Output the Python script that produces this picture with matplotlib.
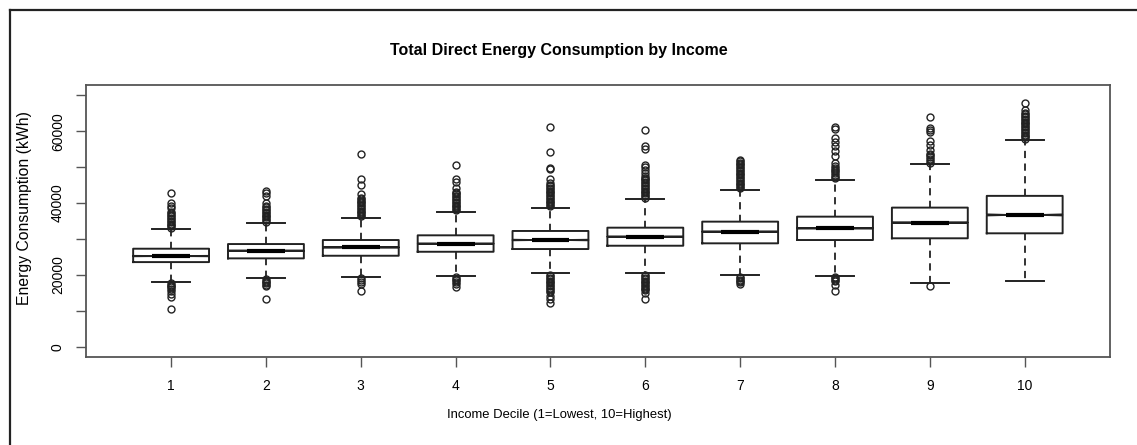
import matplotlib
matplotlib.use("Agg")
import matplotlib.pyplot as plt
from matplotlib.lines import Line2D

plt.rcParams['font.family'] = ['Liberation Sans', 'DejaVu Sans']

###Box statistics per income decile (kWh)
deciles = [1, 2, 3, 4, 5, 6, 7, 8, 9, 10]
q1s = [23560, 24600, 25330, 26440, 27200, 28120, 28790, 29710, 30190, 31580]
medians = [25240, 26720, 27670, 28680, 29710, 30630, 32030, 32980, 34550, 36700]
q3s = [27290, 28590, 29710, 31020, 32230, 33150, 34830, 36220, 38740, 42010]
whis_lo = [18060, 19170, 19370, 19650, 20400, 20400, 19930, 19650, 17780, 18340]
whis_hi = [32700, 34380, 35950, 37620, 38740, 41170, 43770, 46480, 50870, 57470]
notch_half = [50, 55, 60, 65, 70, 70, 80, 90, 110, 140]

###Outliers above and below the whiskers
out_hi = [
    [33100, 33500, 33900, 34300, 34700, 35100, 35500, 35900, 36300, 36700, 37100, 37600, 38600, 39300, 39900, 42700],
    [34800, 35200, 35600, 36000, 36400, 36800, 37200, 37600, 38000, 38400, 38800, 39300, 39900, 42000, 42700, 43400],
    [36300, 36700, 37100, 37500, 37900, 38300, 38700, 39100, 39500, 39900, 40300, 40700, 41100, 41500, 42500, 45100, 46700, 53800],
    [38000, 38400, 38800, 39200, 39600, 40000, 40400, 40800, 41200, 41600, 42000, 42400, 42800, 43200, 44200, 46000, 46700, 50700],
    [39100, 39500, 39900, 40300, 40700, 41100, 41500, 41900, 42300, 42700, 43100, 43500, 43900, 44300, 44700, 45100, 45500, 46700, 49500, 49900, 54300, 61100],
    [41500, 41900, 42300, 42700, 43100, 43500, 43900, 44300, 44700, 45100, 45500, 45900, 46300, 46700, 47100, 47500, 48300, 49200, 50000, 50700, 55100, 56000, 60300],
    [44100, 44500, 44900, 45300, 45700, 46100, 46500, 46900, 47300, 47700, 48100, 48500, 48900, 49300, 49700, 50100, 50500, 50900, 51300, 51700, 52000],
    [46900, 47400, 47800, 48350, 48800, 49280, 49700, 50200, 51150, 52990, 54390, 55790, 57020, 58140, 60650, 61300],
    [51300, 51800, 52300, 52800, 53300, 53750, 54670, 56260, 57190, 59900, 60260, 60930, 64000],
    [57900, 58300, 58700, 59100, 59500, 59900, 60300, 60700, 61100, 61500, 61900, 62300, 62700, 63100, 63500, 63900, 64300, 64700, 65200, 66050, 67900],
]
out_lo = [
    [17700, 17300, 16900, 16500, 16100, 15600, 14800, 13900, 10600],
    [18800, 18400, 18000, 17600, 17200, 16800, 13300],
    [19000, 18700, 18000, 17400, 15400],
    [19300, 18900, 18500, 18100, 17400, 16500],
    [20000, 19600, 19200, 18800, 18400, 18000, 17600, 17200, 16800, 16400, 16000, 15600, 15200, 14100, 13200, 12300],
    [20000, 19600, 19200, 18800, 18400, 18000, 17600, 17200, 16800, 16400, 16000, 15700, 15000, 13300],
    [19500, 19100, 18700, 18300, 17900, 17500],
    [19300, 19000, 18600, 18200, 17100, 15500],
    [16900],
    [],
]

stats = []
for i in range(len(deciles)):
    stats.append(dict(med=medians[i], q1=q1s[i], q3=q3s[i],
                      whislo=whis_lo[i], whishi=whis_hi[i],
                      cilo=medians[i] - notch_half[i], cihi=medians[i] + notch_half[i],
                      fliers=out_hi[i] + out_lo[i]))

fig = plt.figure(figsize=(11.37, 4.45), dpi=100)
ax = fig.add_axes([0.0754, 0.1984, 0.9009, 0.6106])

edge = '#222222'
ax.bxp(stats, positions=deciles, widths=0.8, shownotches=True,
       boxprops=dict(color=edge, linewidth=1.4),
       medianprops=dict(color='black', linewidth=3, solid_capstyle='butt'),
       whiskerprops=dict(color=edge, linewidth=1.3, linestyle=(0, (4, 3))),
       capprops=dict(color=edge, linewidth=1.4),
       flierprops=dict(marker='o', markerfacecolor='none', markeredgecolor='#222222',
                       markersize=5, markeredgewidth=1.0))

ax.set_xlim(0.1, 10.9)
ax.set_ylim(-2800, 72900)

ax.set_xticks(deciles)
ax.set_xticklabels([str(d) for d in deciles], fontsize=10)
yticks = [0, 10000, 20000, 30000, 40000, 50000, 60000, 70000]
ax.set_yticks(yticks)
ax.set_yticklabels([str(v) if v % 20000 == 0 else '' for v in yticks],
                   fontsize=10, rotation=90, va='center')
ax.tick_params(axis='both', length=7, width=1, color='#555555')
ax.tick_params(axis='x', pad=9)
ax.tick_params(axis='y', pad=8)
for s in ax.spines.values():
    s.set_color('#555555')
    s.set_linewidth(1.3)

ax.set_ylabel('Energy Consumption (kWh)', fontsize=11.3)
ax.yaxis.set_label_coords(-0.0524, 0.547)

W, H = 1137, 445
fig.text(559 / W, 1 - 50 / H, 'Total Direct Energy Consumption by Income',
         ha='center', va='center', fontsize=11.5, fontweight='bold')
fig.text(559 / W, 1 - 415 / H, 'Income Decile (1=Lowest, 10=Highest)',
         ha='center', va='center', fontsize=9.4)

###Outer frame (left and top edges)
fig.add_artist(Line2D([10 / W, 10 / W], [0, 1 - 10 / H], transform=fig.transFigure, color='#222222', linewidth=1.6))
fig.add_artist(Line2D([10 / W, 1], [1 - 10 / H, 1 - 10 / H], transform=fig.transFigure, color='#222222', linewidth=1.6))

fig.savefig('out.png', dpi=100)
